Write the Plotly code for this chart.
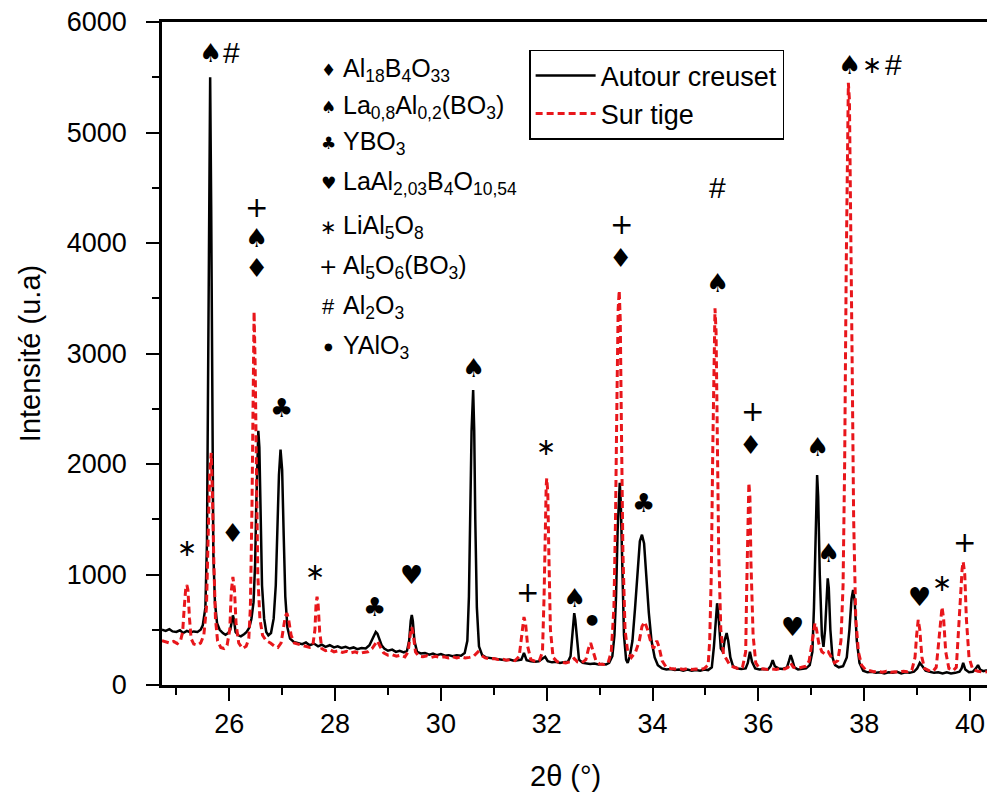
import plotly.graph_objects as go

# ---------------- data ----------------
autour_x = [24.73, 24.80, 24.87, 24.93, 25.00, 25.07, 25.13, 25.20, 25.27, 25.33, 25.40, 25.46, 25.50,
            25.55, 25.58, 25.60, 25.62, 25.64, 25.66, 25.68, 25.70, 25.73, 25.77, 25.82, 25.88, 25.93, 25.98,
            26.02, 26.05, 26.07, 26.09, 26.12, 26.17, 26.22, 26.28, 26.33, 26.38, 26.42,
            26.46, 26.49, 26.51, 26.53, 26.55, 26.57, 26.59, 26.62, 26.66, 26.70, 26.74, 26.79, 26.84,
            26.88, 26.91, 26.94, 26.97, 27.00, 27.03, 27.06, 27.10, 27.15, 27.22, 27.30, 27.38, 27.45, 27.52,
            27.60, 27.68, 27.75, 27.82, 27.90, 27.98, 28.05, 28.12, 28.20, 28.28, 28.35, 28.42, 28.50, 28.58, 28.65,
            28.70, 28.74, 28.77, 28.80, 28.84, 28.88, 28.93, 29.00, 29.08, 29.15, 29.22, 29.30, 29.36,
            29.40, 29.43, 29.45, 29.47, 29.50, 29.55, 29.62, 29.70, 29.78, 29.85, 29.92, 30.00, 30.08, 30.15,
            30.22, 30.30, 30.38, 30.45, 30.50,
            30.53, 30.56, 30.58, 30.61, 30.63, 30.65, 30.68, 30.72, 30.78, 30.85, 30.92, 31.00, 31.08, 31.15,
            31.22, 31.30, 31.38, 31.45, 31.52,
            31.57, 31.62, 31.70, 31.78, 31.85, 31.93, 31.97, 32.02, 32.10, 32.18, 32.25, 32.32, 32.40, 32.45,
            32.48, 32.50, 32.52, 32.54, 32.57, 32.61, 32.68, 32.75, 32.82, 32.90, 32.98, 33.05, 33.12, 33.18, 33.24,
            33.28, 33.31, 33.34, 33.37, 33.38, 33.40, 33.43, 33.46, 33.50, 33.53,
            33.57, 33.62, 33.67, 33.72, 33.76, 33.80, 33.84, 33.88, 33.93, 33.98, 34.04, 34.10, 34.18, 34.26,
            34.34, 34.42, 34.50, 34.58, 34.66, 34.74, 34.82, 34.90, 34.98, 35.05, 35.12,
            35.16, 35.19, 35.22, 35.25, 35.29, 35.33,
            35.36, 35.40, 35.43, 35.47, 35.52, 35.60, 35.68, 35.76, 35.80,
            35.84, 35.88, 35.94, 36.02, 36.10, 36.18, 36.23, 36.27, 36.31, 36.38, 36.46, 36.54,
            36.58, 36.61, 36.64, 36.68, 36.75, 36.82, 36.90, 36.97, 37.02,
            37.05, 37.08, 37.10, 37.11, 37.13, 37.16, 37.20, 37.23, 37.26,
            37.29, 37.31, 37.33, 37.36, 37.40, 37.45, 37.52, 37.60, 37.67,
            37.72, 37.76, 37.79, 37.82, 37.86, 37.91, 37.98, 38.06, 38.14, 38.22, 38.30, 38.38, 38.46, 38.54,
            38.62, 38.70, 38.78, 38.86, 38.94, 39.00,
            39.05, 39.10, 39.16, 39.24, 39.32, 39.40, 39.48, 39.56, 39.64, 39.72, 39.80, 39.84,
            39.87, 39.91, 39.98, 40.05, 40.11, 40.15, 40.19, 40.25, 40.32]
autour_y = [500, 490, 505, 485, 480, 495, 470, 490, 475, 485, 480, 500, 540,
            700, 1300, 2800, 4600, 5500, 4300, 2400, 1200, 750, 560, 500, 470, 455, 470,
            500, 590, 630, 590, 480, 450, 440, 460, 480, 520, 600,
            750, 1100, 1600, 2100, 2300, 2150, 1500, 900, 600, 480, 450, 470, 600,
            900, 1400, 1900, 2130, 1950, 1350, 800, 520, 420, 390, 380, 370, 385, 360,
            375, 350, 365, 345, 360, 340, 350, 335, 345, 330, 340, 325, 335, 330, 360,
            410, 460, 480, 465, 420, 360, 330, 310, 320, 300, 310, 295, 310,
            400, 580, 633, 580, 400, 300, 285, 290, 275, 285, 270, 280, 265, 270,
            260, 270, 265, 290, 400,
            800, 1600, 2300, 2670, 2300, 1500, 700, 350, 270, 250, 245, 240, 235, 230,
            225, 230, 220, 225, 230,
            290, 225, 215, 210, 215, 240, 255, 215, 205, 210, 200, 205, 210, 260,
            420, 590, 650, 590, 400, 230, 200, 195, 190, 195, 185, 190, 185, 200, 260,
            450, 800, 1400, 1800, 1830, 1650, 1000, 450, 230, 200,
            260, 400, 700, 1050, 1300, 1360, 1280, 1000, 650, 400, 250, 180, 150, 140,
            145, 135, 140, 130, 140, 130, 135, 130, 140, 135, 160,
            350, 600, 740, 600, 330, 300,
            400, 470, 400, 250, 170, 150, 145, 150, 200,
            300, 210, 150, 140, 145, 140, 170, 225, 170, 150, 145, 160,
            220, 270, 230, 160, 140, 145, 150, 180, 300,
            700, 1400, 1850, 1900, 1700, 1000, 450, 345, 500,
            850, 965, 880, 500, 250, 180, 160, 170, 250,
            500, 780, 860, 760, 400, 200, 130, 115, 120, 110, 115, 105, 115, 110,
            120, 105, 115, 110, 120, 150,
            200, 170, 130, 120, 110, 115, 105, 115, 105, 110, 120, 150,
            200, 140, 115, 120, 150, 180, 140, 125, 135]

tige_x = [24.73, 24.80, 24.87, 24.95, 25.02, 25.08, 25.12,
          25.15, 25.18, 25.20, 25.22, 25.25, 25.28, 25.33, 25.40, 25.46, 25.52,
          25.57, 25.60, 25.63, 25.66, 25.68, 25.71, 25.74, 25.78, 25.84, 25.90, 25.96, 26.01,
          26.04, 26.07, 26.10, 26.13, 26.18, 26.25, 26.32, 26.37,
          26.40, 26.43, 26.45, 26.47, 26.49, 26.51, 26.54, 26.58, 26.63, 26.70, 26.78, 26.86, 26.92, 26.98, 27.03,
          27.06, 27.09, 27.12, 27.17, 27.23, 27.30, 27.38, 27.45, 27.52, 27.58, 27.62,
          27.64, 27.66, 27.68, 27.71, 27.75, 27.82, 27.90, 27.98, 28.06, 28.14, 28.22, 28.30, 28.38, 28.46,
          28.54, 28.62, 28.70,
          28.76, 28.80, 28.85, 28.92, 29.00, 29.08, 29.16, 29.24, 29.32, 29.38,
          29.42, 29.45, 29.48, 29.52, 29.58, 29.66, 29.74, 29.82, 29.90, 29.98, 30.06, 30.14, 30.22, 30.30,
          30.38, 30.46, 30.54, 30.62, 30.70, 30.76, 30.84, 30.92, 31.00, 31.08, 31.16, 31.24, 31.32, 31.40, 31.48,
          31.52, 31.55, 31.57, 31.60, 31.64, 31.70, 31.78, 31.86, 31.92,
          31.95, 31.97, 31.99, 32.00, 32.02, 32.04, 32.07, 32.12, 32.20, 32.28, 32.36, 32.44, 32.52, 32.58,
          32.66, 32.74,
          32.79, 32.83, 32.87, 32.93, 33.00, 33.08, 33.16, 33.22,
          33.27, 33.30, 33.33, 33.35, 33.37, 33.39, 33.41, 33.44, 33.48, 33.53, 33.60, 33.68, 33.75,
          33.80, 33.85, 33.90, 33.96, 34.02, 34.08, 34.12, 34.18, 34.26, 34.34, 34.42, 34.50, 34.58, 34.66,
          34.74, 34.82, 34.90, 34.98, 35.05,
          35.08, 35.11, 35.14, 35.16, 35.18, 35.20, 35.22, 35.25, 35.29, 35.34, 35.40, 35.46, 35.54, 35.62,
          35.70, 35.76,
          35.78, 35.80, 35.82, 35.84, 35.86, 35.90, 35.95, 36.02, 36.10, 36.18, 36.26, 36.34, 36.42, 36.50,
          36.56, 36.61, 36.66, 36.74, 36.82, 36.90, 36.96, 37.00,
          37.04, 37.07, 37.10, 37.14, 37.20, 37.26, 37.32, 37.38, 37.44, 37.50, 37.56,
          37.60, 37.63, 37.66, 37.68, 37.70, 37.72, 37.74, 37.77, 37.80, 37.84, 37.89, 37.95, 38.02, 38.10,
          38.18, 38.26, 38.34, 38.42, 38.50, 38.58, 38.66, 38.74, 38.82, 38.90, 38.96,
          38.99, 39.02, 39.05, 39.09, 39.14, 39.22, 39.30, 39.36, 39.40,
          39.44, 39.47, 39.50, 39.54, 39.60, 39.68, 39.74, 39.79,
          39.82, 39.85, 39.87, 39.90, 39.93, 39.98, 40.05, 40.15, 40.25, 40.32]
tige_y = [400, 390, 380, 395, 375, 400, 480,
          700, 880, 905, 860, 600, 420, 370, 360, 380, 450,
          700, 1300, 1900, 2100, 1800, 1100, 600, 400, 340, 330, 360, 500,
          850, 977, 860, 550, 380, 330, 350, 420,
          700, 1600, 2600, 3380, 2900, 2000, 1000, 600, 450, 400, 380, 350, 340, 380, 520,
          620, 650, 600, 450, 380, 370, 360, 350, 340, 360, 500,
          720, 800, 730, 480, 330, 310, 320, 300, 310, 295, 305, 290, 300, 285,
          295, 300, 330,
          380, 400, 350, 290, 270, 275, 260, 270, 255, 300,
          450, 525, 450, 300, 260, 255, 265, 250, 260, 250, 255, 245, 255, 245,
          255, 245, 250, 260, 300, 270, 245, 235, 240, 230, 235, 225, 230, 220, 260,
          420, 580, 615, 560, 350, 230, 215, 220, 300,
          800, 1400, 1800, 1870, 1750, 1200, 500, 250, 210, 205, 200, 210, 240, 210,
          200, 230,
          330, 380, 320, 220, 190, 185, 200, 300,
          700, 1500, 2700, 3400, 3570, 3300, 2400, 1200, 500, 300, 250, 300, 400,
          530, 570, 510, 400, 330, 400, 350, 220, 160, 150, 145, 150, 140, 150,
          140, 145, 140, 150, 180,
          400, 1000, 2200, 3100, 3410, 3200, 2400, 1200, 500, 280, 230, 180, 160, 150,
          160, 300,
          900, 1600, 1830, 1700, 1100, 450, 200, 150, 145, 140, 145, 140, 150, 145,
          160, 200, 160, 150, 160, 170, 220, 350,
          480, 560, 500, 380, 300, 280, 300, 250, 200, 220, 400,
          900, 2000, 3800, 5000, 5450, 5300, 4500, 3000, 1500, 600, 300, 180, 140, 130,
          120, 125, 115, 125, 115, 120, 115, 125, 120, 135, 250,
          450, 590, 500, 250, 150, 130, 125, 160, 350,
          600, 705, 600, 300, 150, 130, 160, 500,
          800, 1050, 1115, 1000, 600, 250, 140, 125, 115, 120]

# phase markers placed over the peaks
mark_text = ["♠", "#", "+", "♠", "♦", "♣", "∗", "♦", "∗", "♣", "♥", "♠", "+", "∗", "♠", "●",
             "♣", "+", "♦", "#", "♠", "+", "♦", "♥", "♠", "♠", "♠", "∗", "#", "♥", "∗", "+"]
mark_x = [25.64, 26.05, 26.52, 26.52, 26.51, 26.98, 25.20, 26.07, 27.62, 28.75, 29.45, 30.61, 31.63, 31.98,
          32.53, 32.85, 33.82, 33.42, 33.40, 35.22, 35.22, 35.88, 35.86, 36.65, 37.12, 37.33, 37.73,
          38.14, 38.56, 39.05, 39.47, 39.90]
mark_y = [5720, 5720, 4317, 4045, 3774, 2507, 1240, 1376, 1023, 706, 996, 2869, 833, 2154,
          787, 597, 1647, 4163, 3864, 4498, 3638, 2471, 2172, 525, 2154, 1195, 5611,
          5611, 5611, 796, 923, 1294]

# phase key (symbol + formula)
key_symbols = ["♦", "♠", "♣", "♥", "∗", "+", "#", "●"]
key_labels = ["Al<sub>18</sub>B<sub>4</sub>O<sub>33</sub>",
              "La<sub>0,8</sub>Al<sub>0,2</sub>(BO<sub>3</sub>)",
              "YBO<sub>3</sub>",
              "LaAl<sub>2,03</sub>B<sub>4</sub>O<sub>10,54</sub>",
              "LiAl<sub>5</sub>O<sub>8</sub>",
              "Al<sub>5</sub>O<sub>6</sub>(BO<sub>3</sub>)",
              "Al<sub>2</sub>O<sub>3</sub>",
              "YAlO<sub>3</sub>"]
key_y = [5566, 5231, 4905, 4543, 4145, 3783, 3421, 3059]

x_ticks = [26, 28, 30, 32, 34, 36, 38, 40]
y_ticks = [0, 1000, 2000, 3000, 4000, 5000, 6000]

FONT = "Liberation Sans, Arial, sans-serif"
SYM_FONT = "DejaVu Sans, sans-serif"

mark_style = {
    "♠": (SYM_FONT, 26), "♦": (SYM_FONT, 26), "♣": (SYM_FONT, 26), "♥": (SYM_FONT, 26),
    "●": (SYM_FONT, 14), "∗": (SYM_FONT, 24), "+": (SYM_FONT, 28), "#": (FONT, 30),
}
key_style = {
    "♠": (SYM_FONT, 17), "♦": (SYM_FONT, 17), "♣": (SYM_FONT, 17), "♥": (SYM_FONT, 17),
    "●": (SYM_FONT, 10), "∗": (SYM_FONT, 20), "+": (SYM_FONT, 22), "#": (FONT, 22),
}

fig = go.Figure()
fig.add_trace(go.Scatter(x=autour_x, y=autour_y, mode="lines", name="Autour creuset",
                         line=dict(color="black", width=2.5)))
fig.add_trace(go.Scatter(x=tige_x, y=tige_y, mode="lines", name="Sur tige",
                         line=dict(color="#e8161b", width=3, dash="7px,4px")))

annotations = []
for t, x, y in zip(mark_text, mark_x, mark_y):
    fam, sz = mark_style[t]
    annotations.append(dict(x=x, y=y, xref="x", yref="y", text=t, showarrow=False,
                            xanchor="center", yanchor="middle",
                            font=dict(family=fam, size=sz, color="black")))

for s, lab, y in zip(key_symbols, key_labels, key_y):
    fam, sz = key_style[s]
    annotations.append(dict(x=27.87, y=y, xref="x", yref="y", text=s, showarrow=False,
                            xanchor="center", yanchor="middle",
                            font=dict(family=fam, size=sz, color="black")))
    annotations.append(dict(x=28.12, y=y, xref="x", yref="y", text=lab, showarrow=False,
                            xanchor="left", yanchor="middle",
                            font=dict(family=FONT, size=25, color="black")))

# x-axis title placed as paper annotation
annotations.append(dict(x=0.4885, y=-0.138, xref="paper", yref="paper", text="2θ (°)",
                        showarrow=False, xanchor="center", yanchor="middle",
                        font=dict(family=FONT, size=29, color="black")))

fig.update_layout(
    width=987, height=796,
    margin=dict(l=162, r=0, t=22, b=111, autoexpand=False),
    paper_bgcolor="white", plot_bgcolor="white",
    font=dict(family=FONT, size=26, color="black"),
    showlegend=True,
    legend=dict(x=0.445, y=0.958, xanchor="left", yanchor="top",
                bgcolor="white", bordercolor="black", borderwidth=1.5,
                font=dict(family=FONT, size=27, color="black"),
                itemwidth=60, tracegroupgap=0),
    annotations=annotations,
)
fig.update_xaxes(range=[24.73, 40.32], tickmode="array", tickvals=x_ticks,
                 ticktext=[str(v) for v in x_ticks], automargin=False,
                 showline=True, linecolor="black", linewidth=2.5, mirror=True,
                 ticks="outside", ticklen=13, tickwidth=2, tickcolor="black",
                 minor=dict(dtick=1, ticks="outside", ticklen=7, tickwidth=2, tickcolor="black"),
                 showgrid=False, zeroline=False,
                 tickfont=dict(family=FONT, size=27))
fig.update_yaxes(range=[0, 6000], tickmode="array", tickvals=y_ticks,
                 ticktext=[str(v) for v in y_ticks], automargin=False,
                 showline=True, linecolor="black", linewidth=2.5,
                 ticks="outside", ticklen=13, tickwidth=2, tickcolor="black",
                 ticklabelstandoff=14,
                 minor=dict(dtick=500, ticks="outside", ticklen=7, tickwidth=2, tickcolor="black"),
                 showgrid=False, zeroline=False,
                 tickfont=dict(family=FONT, size=27),
                 title=dict(text="Intensité (u.a)", font=dict(family=FONT, size=29), standoff=18))

fig.write_html("out.html", config={"displayModeBar": False},
               post_script="document.body.style.margin='0';")
